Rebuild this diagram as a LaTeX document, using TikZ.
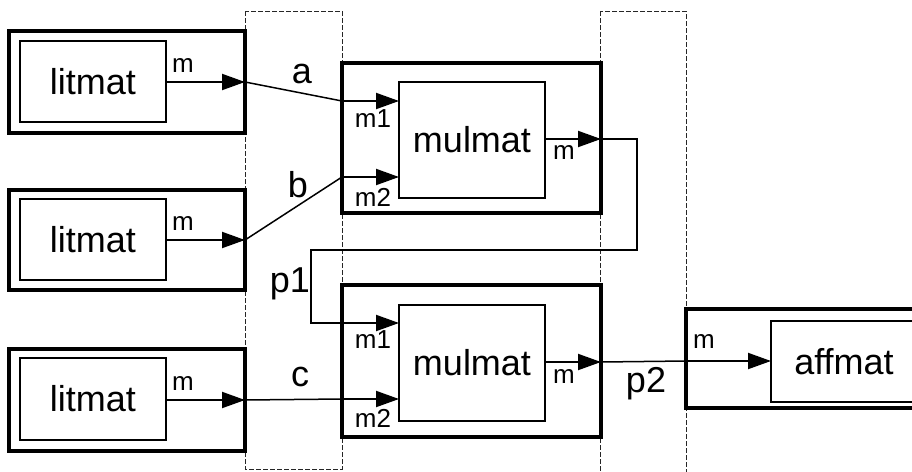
\documentclass[tikz,border=0pt]{standalone}
\usepackage{fontspec}
\setmainfont{Liberation Sans}
\usetikzlibrary{arrows.meta,calc}
\begin{document}
\begin{tikzpicture}[x=1pt,y=-1pt,
 outerbox/.style={draw,line width=4pt,inner sep=0pt,outer sep=0pt},
 innerbox/.style={draw,line width=1.5pt,inner sep=0pt,outer sep=0pt,font=\fontsize{36}{40}\selectfont},
 portarrow/.style={line width=2pt,-{Triangle[length=23pt,width=16pt]}},
 wire/.style={line width=1.5pt},
 smalllbl/.style={font=\fontsize{26}{30}\selectfont,inner sep=0pt,anchor=base},
 biglbl/.style={font=\fontsize{36}{40}\selectfont,inner sep=0pt,anchor=base},
 zone/.style={draw=black!85,line width=1pt,dash pattern=on 5pt off 2pt}]
\useasboundingbox (0,0) rectangle (912,471);
\clip (0,0) rectangle (912,471);
% zones
\draw[zone] (245,11) rectangle (342,469);
\draw[zone] (600,11) rectangle (686,490);
% litmat boxes
\node[outerbox,minimum width=236pt,minimum height=102pt] (litA) at (127,82) {};
\node[innerbox,minimum width=146pt,minimum height=81pt] (litAin) at (93,81.5) {litmat};
\node[outerbox,minimum width=236pt,minimum height=100pt] (litB) at (127,240) {};
\node[innerbox,minimum width=146pt,minimum height=81pt] (litBin) at (93,239.5) {litmat};
\node[outerbox,minimum width=236pt,minimum height=102pt] (litC) at (127,400) {};
\node[innerbox,minimum width=146pt,minimum height=82pt] (litCin) at (93,399) {litmat};
% mulmat boxes
\node[outerbox,minimum width=259pt,minimum height=150pt] (mulA) at (471.5,138) {};
\node[innerbox,minimum width=146pt,minimum height=116pt] (mulAin) at (472,140) {mulmat};
\node[outerbox,minimum width=259pt,minimum height=152pt] (mulB) at (471.5,361) {};
\node[innerbox,minimum width=146pt,minimum height=116pt] (mulBin) at (472,363) {mulmat};
% affmat box
\node[outerbox,minimum width=244pt,minimum height=99pt] (aff) at (808,358.5) {};
\node[innerbox,minimum width=146pt,minimum height=81pt] (affin) at (844,361.5) {affmat};
% ports
\coordinate (mA1) at (342,101);
\coordinate (mA2) at (342,177);
\coordinate (mAo) at (601,139);
\coordinate (mB1) at (342,323);
\coordinate (mB2) at (342,399);
\coordinate (mBo) at (601,362);
\coordinate (affi) at (686,361);
\coordinate (p1r) at (637,250);
\coordinate (p1l) at (311,323);
% port arrows
\draw[portarrow] (litAin.east |- litA.east) -- (litA.east);
\draw[portarrow] (litBin.east |- litB.east) -- (litB.east);
\draw[portarrow] (litCin.east |- litC.east) -- (litC.east);
\draw[portarrow] (mA1) -- (mA1 -| mulAin.west);
\draw[portarrow] (mA2) -- (mA2 -| mulAin.west);
\draw[portarrow] (mAo -| mulAin.east) -- (mAo);
\draw[portarrow] (mB1) -- (mB1 -| mulBin.west);
\draw[portarrow] (mB2) -- (mB2 -| mulBin.west);
\draw[portarrow] (mBo -| mulBin.east) -- (mBo);
\draw[portarrow] (affi) -- (affi -| affin.west);
% wires
\draw[wire] (litA.east) -- (mA1);
\draw[wire] (litB.east) -- (mA2);
\draw[wire] (litC.east) -- (mB2);
\draw[wire] (mAo) -| (p1r) -| (p1l) -- (mB1);
\draw[wire] (mBo) -- (affi);
% small port labels
\node[smalllbl] (lmA) at (183,72) {m};
\node[smalllbl] (lmB) at (183,230) {m};
\node[smalllbl] (lmC) at (183,390) {m};
\node[smalllbl] (lA1) at (373,127) {m1};
\node[smalllbl] (lA2) at (373,206) {m2};
\node[smalllbl] (lAo) at (564,159) {m};
\node[smalllbl] (lB1) at (373,348) {m1};
\node[smalllbl] (lB2) at (373,427) {m2};
\node[smalllbl] (lBo) at (564,383) {m};
\node[smalllbl] (laff) at (704,348) {m};
% wire labels
\node[biglbl] (wa) at (302,83) {a};
\node[biglbl] (wb) at (298,197) {b};
\node[biglbl] (wp1) at (290,292) {p1};
\node[biglbl] (wc) at (300,386) {c};
\node[biglbl] (wp2) at (646,392) {p2};
\end{tikzpicture}
\end{document}
